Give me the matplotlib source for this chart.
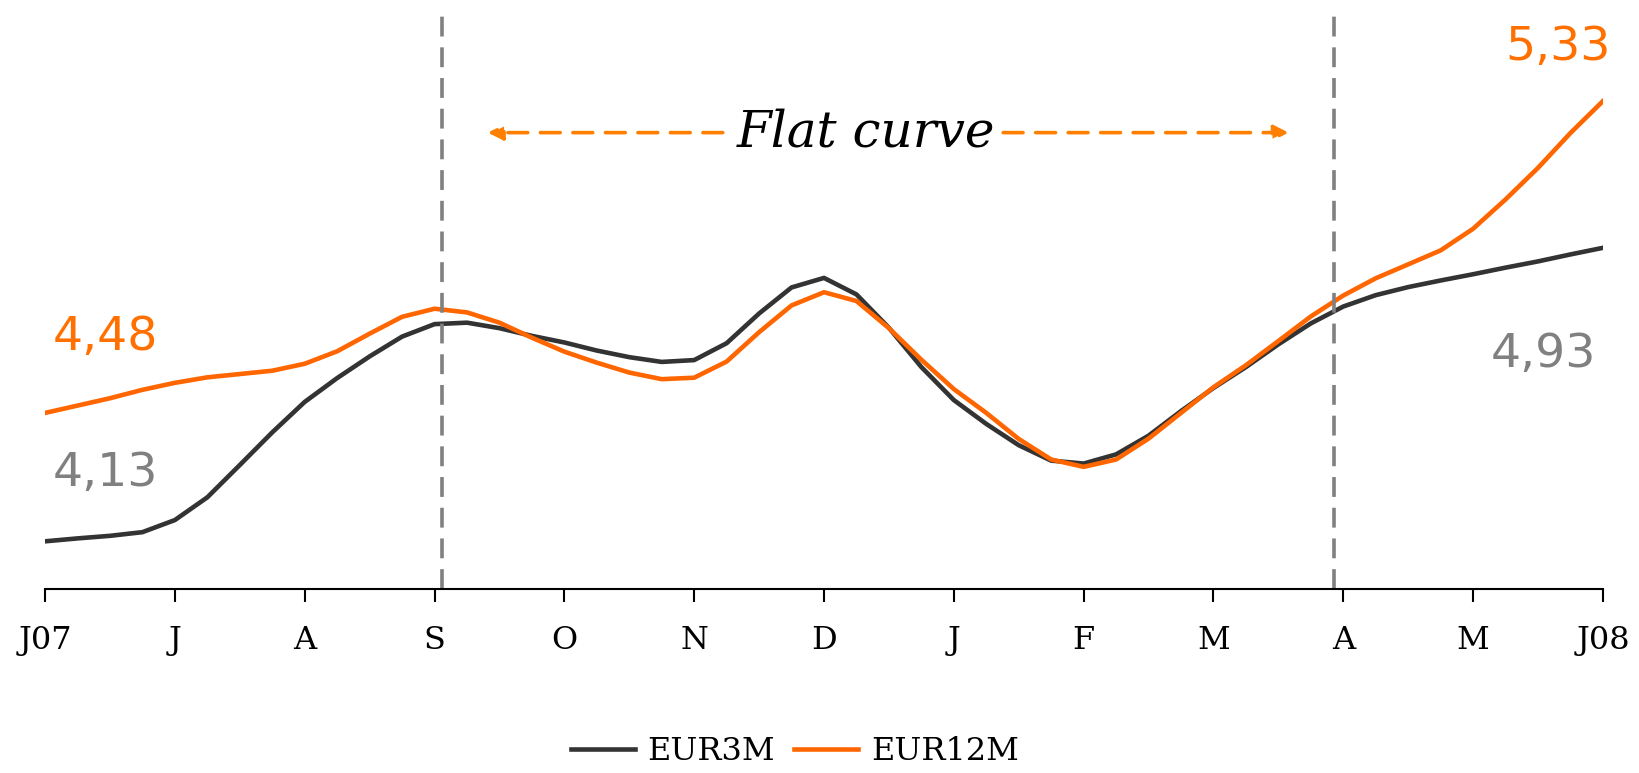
import numpy as np
import matplotlib.pyplot as plt

# month axis, June 2007 -> June 2008, sampled every quarter month
month_labels = ["J07", "J", "A", "S", "O", "N", "D", "J", "F", "M", "A", "M", "J08"]
t = np.arange(49) / 4.0

eur3m = [4.130, 4.138, 4.145, 4.155, 4.188, 4.250, 4.338, 4.427, 4.510, 4.575,
         4.634, 4.688, 4.722, 4.726, 4.711, 4.690, 4.672, 4.650, 4.632, 4.619,
         4.624, 4.670, 4.751, 4.822, 4.848, 4.803, 4.712, 4.605, 4.515, 4.450,
         4.392, 4.350, 4.342, 4.367, 4.418, 4.485, 4.548, 4.605, 4.667, 4.724,
         4.770, 4.801, 4.823, 4.841, 4.858, 4.876, 4.893, 4.912, 4.930]

eur12m = [4.480, 4.500, 4.520, 4.543, 4.562, 4.577, 4.586, 4.595, 4.614, 4.648,
          4.696, 4.742, 4.764, 4.754, 4.726, 4.685, 4.647, 4.617, 4.590, 4.572,
          4.576, 4.620, 4.700, 4.773, 4.809, 4.785, 4.711, 4.625, 4.545, 4.480,
          4.409, 4.353, 4.333, 4.353, 4.410, 4.480, 4.550, 4.610, 4.676, 4.743,
          4.800, 4.847, 4.885, 4.923, 4.982, 5.062, 5.148, 5.243, 5.330]

flat_start = 3.06
flat_end = 9.93

c3 = "#333333"
c12 = "#ff6600"

fig = plt.figure(figsize=(16.39, 7.73), dpi=100)
ax = fig.add_axes([0.0275, 0.238, 0.9505, 0.7594])

ax.plot(t, eur3m, color=c3, lw=3.3, label="EUR3M", solid_joinstyle="round")
ax.plot(t, eur12m, color=c12, lw=3.3, label="EUR12M", solid_joinstyle="round")

for xv in (flat_start, flat_end):
    ax.axvline(xv, ymin=0.0, ymax=0.99, color="#808080", lw=2.6, ls=(0, (5.5, 3)))

# flat curve annotation
arrow = dict(arrowstyle="-|>", color="#ff8000", lw=2.6, ls=(0, (5.5, 3.5)),
             mutation_scale=22, shrinkA=0, shrinkB=0)
ax.annotate("", xy=(3.41, 5.244), xytext=(5.22, 5.244), arrowprops=arrow)
ax.annotate("", xy=(9.58, 5.244), xytext=(7.38, 5.244), arrowprops=arrow)
ax.text(6.32, 5.244, "Flat curve", ha="center", va="center", fontsize=36,
        family="DejaVu Serif", style="italic")

# start / end values
ax.text(0.06, eur12m[0] + 0.205, "4,48", color="#ff7000", fontsize=34, ha="left", va="center")
ax.text(0.06, eur3m[0] + 0.185, "4,13", color="#808080", fontsize=34, ha="left", va="center")
ax.text(12.06, eur12m[-1] + 0.145, "5,33", color="#ff7000", fontsize=34, ha="right", va="center")
ax.text(11.95, eur3m[-1] - 0.29, "4,93", color="#808080", fontsize=34, ha="right", va="center")

ax.set_xlim(0, 12)
ax.set_ylim(4.0, 5.6)
ax.set_xticks(np.arange(13))
ax.set_xticklabels(month_labels, family="DejaVu Serif", fontsize=23)
ax.tick_params(axis="x", length=9, width=1.5, pad=17, colors="black")
ax.set_yticks([])
for s in ("top", "right", "left"):
    ax.spines[s].set_visible(False)
ax.spines["bottom"].set_linewidth(1.5)

fig.legend(loc="lower center", bbox_to_anchor=(0.485, -0.03), ncol=2, frameon=False,
           prop={"family": "DejaVu Serif", "size": 23}, handlelength=2.0,
           handletextpad=0.4, columnspacing=0.6)

fig.savefig("out.png", dpi=100)
